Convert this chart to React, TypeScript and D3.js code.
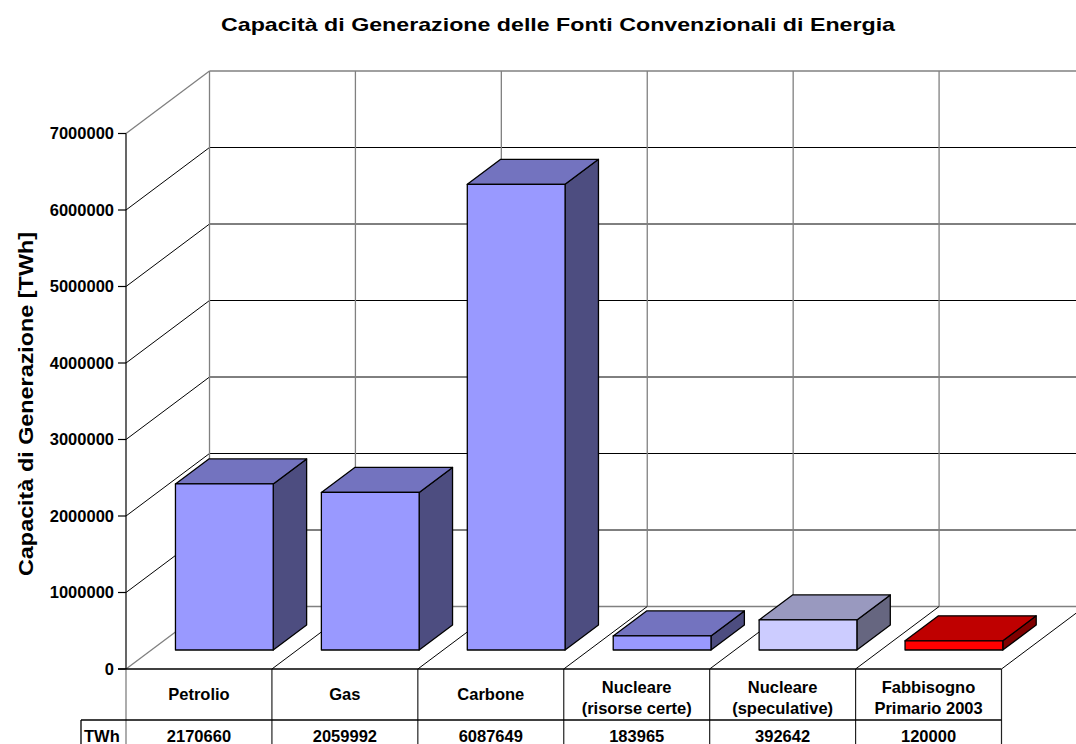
import React from "react";
import * as d3 from "d3";

// Energy sources and their generation capacity (TWh)
const categories = [
  "Petrolio",
  "Gas",
  "Carbone",
  "Nucleare (risorse certe)",
  "Nucleare (speculative)",
  "Fabbisogno Primario 2003",
];
const categoryLines = [
  ["Petrolio"],
  ["Gas"],
  ["Carbone"],
  ["Nucleare", "(risorse certe)"],
  ["Nucleare", "(speculative)"],
  ["Fabbisogno", "Primario 2003"],
];
const values = [2170660, 2059992, 6087649, 183965, 392642, 120000];
const frontColors = ["#9999FF", "#9999FF", "#9999FF", "#9999FF", "#CCCCFF", "#FF0000"];
const yTicks = [0, 1000000, 2000000, 3000000, 4000000, 5000000, 6000000, 7000000];

const W = 1076;
const H = 744;
const FONT = "Arial, 'Liberation Sans', Helvetica, sans-serif";

function shade(c: string, k: number) {
  const r = d3.rgb(c);
  return d3.rgb(r.r * k, r.g * k, r.b * k).formatHex();
}

export default function App() {
  // plot frame (front plane)
  const x0 = 126;
  const x1 = 1001.5;
  const y0 = 669;
  const yTop = 133.5;
  // depth offset from front plane to back wall
  const DX = 83.5;
  const DY = -62.5;
  // bar depth range (fraction of full depth)
  const dFront = 0.304;
  const dBack = 0.704;

  const x = d3
    .scaleBand<string>()
    .domain(categories)
    .range([x0, x1])
    .paddingInner(0.33)
    .paddingOuter(0.165);
  const step = x.step();
  const y = d3.scaleLinear().domain([0, 7000000]).range([y0, yTop]);

  const gridVals = yTicks.slice(1, -1);
  const colEdges = d3.range(categories.length + 1).map((i) => x0 + i * step);

  const bars = categories.map((c, i) => {
    const v = values[i];
    const fx = (x(c) as number) + dFront * DX;
    const fw = x.bandwidth();
    const fyB = y(0) + dFront * DY;
    const fyT = y(v) + dFront * DY;
    const bdx = (dBack - dFront) * DX;
    const bdy = (dBack - dFront) * DY;
    const front = frontColors[i];
    const top = shade(front, 0.75);
    const side = shade(front, 0.5);
    const frontPts = [
      [fx, fyB],
      [fx + fw, fyB],
      [fx + fw, fyT],
      [fx, fyT],
    ];
    const topPts = [
      [fx, fyT],
      [fx + fw, fyT],
      [fx + fw + bdx, fyT + bdy],
      [fx + bdx, fyT + bdy],
    ];
    const sidePts = [
      [fx + fw, fyB],
      [fx + fw + bdx, fyB + bdy],
      [fx + fw + bdx, fyT + bdy],
      [fx + fw, fyT],
    ];
    const p = (pts: number[][]) => pts.map((q) => q.join(",")).join(" ");
    return (
      <g key={c}>
        <polygon points={p(sidePts)} fill={side} stroke="#000" strokeWidth={1.3} strokeLinejoin="round" />
        <polygon points={p(topPts)} fill={top} stroke="#000" strokeWidth={1.3} strokeLinejoin="round" />
        <polygon points={p(frontPts)} fill={front} stroke="#000" strokeWidth={1.3} strokeLinejoin="round" />
      </g>
    );
  });

  const row1Bottom = 720;
  const rowLeft = 81;
  const fs = 16.5;

  return (
    <svg
      width={W}
      height={H}
      style={{ position: "absolute", left: 0, top: 0, background: "#fff" }}
      fontFamily={FONT}
    >
      <rect x={0} y={0} width={W} height={H} fill="#fff" />
      <text
        x={221}
        y={31}
        fontSize={18.5}
        fontWeight="bold"
        textLength={674}
        lengthAdjust="spacingAndGlyphs"
      >
        Capacità di Generazione delle Fonti Convenzionali di Energia
      </text>

      {/* back wall gridlines */}
      {gridVals.map((v) => (
        <line key={"bw" + v} x1={x0 + DX} x2={x1 + DX} y1={y(v) + DY} y2={y(v) + DY} stroke="#000" strokeWidth={1} />
      ))}
      {/* left wall gridlines */}
      {gridVals.map((v) => (
        <line key={"lw" + v} x1={x0} x2={x0 + DX} y1={y(v)} y2={y(v) + DY} stroke="#000" strokeWidth={1} />
      ))}
      {/* back wall verticals */}
      {colEdges.map((cx, i) => (
        <line key={"bv" + i} x1={cx + DX} x2={cx + DX} y1={y(0) + DY} y2={y(7000000) + DY} stroke="#808080" strokeWidth={1.3} />
      ))}
      {/* wall borders */}
      <line x1={x0 + DX} x2={x1 + DX} y1={y(7000000) + DY} y2={y(7000000) + DY} stroke="#808080" strokeWidth={1.3} />
      <line x1={x0 + DX} x2={x1 + DX} y1={y(0) + DY} y2={y(0) + DY} stroke="#808080" strokeWidth={1.3} />
      <line x1={x0} x2={x0 + DX} y1={y(7000000)} y2={y(7000000) + DY} stroke="#808080" strokeWidth={1.3} />
      <line x1={x0} x2={x0 + DX} y1={y(0)} y2={y(0) + DY} stroke="#808080" strokeWidth={1.3} />
      {/* floor category dividers */}
      {colEdges.slice(1).map((cx, i) => (
        <line key={"fd" + i} x1={cx} x2={cx + DX} y1={y0} y2={y0 + DY} stroke="#000" strokeWidth={1} />
      ))}

      {bars}

      {/* value axis */}
      <line x1={x0} x2={x0} y1={y(7000000)} y2={y0} stroke="#000" strokeWidth={1.2} />
      {yTicks.map((t) => (
        <g key={"t" + t}>
          <line x1={x0 - 8} x2={x0} y1={y(t)} y2={y(t)} stroke="#000" strokeWidth={1.2} />
          <text x={114} y={y(t)} dy="0.36em" textAnchor="end" fontSize={fs} fontWeight="bold">
            {t}
          </text>
        </g>
      ))}
      <text
        transform={`translate(33,576) rotate(-90)`}
        fontSize={20}
        fontWeight="bold"
        textLength={344}
        lengthAdjust="spacingAndGlyphs"
      >
        Capacità di Generazione [TWh]
      </text>

      {/* data table */}
      <line x1={x0} x2={x0} y1={y0} y2={H} stroke="#808080" strokeWidth={1.3} />
      {colEdges.slice(1).map((cx, i) => (
        <line key={"tc" + i} x1={cx} x2={cx} y1={y0} y2={H} stroke="#222" strokeWidth={1.2} />
      ))}
      <line x1={rowLeft} x2={x1} y1={row1Bottom} y2={row1Bottom} stroke="#000" strokeWidth={1.3} />
      <line x1={rowLeft} x2={rowLeft} y1={row1Bottom} y2={H} stroke="#000" strokeWidth={1.3} />
      <line x1={x0 - 8} x2={x1} y1={y0} y2={y0} stroke="#000" strokeWidth={1.3} />
      {categories.map((c, i) => {
        const cx = x0 + (i + 0.5) * step;
        const lines = categoryLines[i];
        const base = lines.length === 1 ? 700 : 692.5;
        return (
          <g key={"lbl" + c}>
            {lines.map((ln, j) => (
              <text key={j} x={cx} y={base + j * 21} textAnchor="middle" fontSize={fs} fontWeight="bold">
                {ln}
              </text>
            ))}
            <text x={cx} y={742} textAnchor="middle" fontSize={fs} fontWeight="bold">
              {values[i]}
            </text>
          </g>
        );
      })}
      <text x={84} y={742} fontSize={fs} fontWeight="bold">
        TWh
      </text>
    </svg>
  );
}
